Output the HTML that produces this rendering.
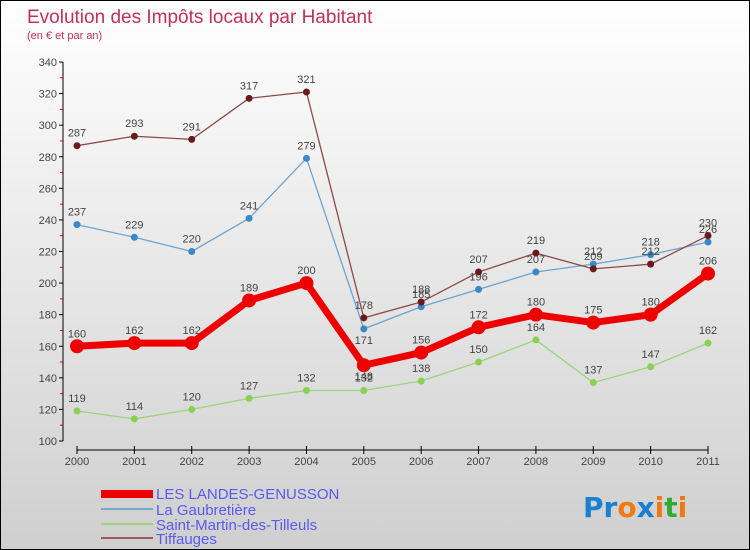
<!DOCTYPE html>
<html><head><meta charset="utf-8"><style>
body{margin:0}
#c{width:748px;height:548px;border:1px solid #000;background:linear-gradient(#fff,#cfcfcf);position:relative;overflow:hidden;font-family:"Liberation Sans",sans-serif}
</style></head><body>
<div id="c">
<svg id="s" width="748" height="548" style="position:absolute;left:0;top:0">
<text x="26" y="22" font-size="19" fill="#c0305a">Evolution des Impôts locaux par Habitant</text>
<text x="26" y="38" font-size="11" fill="#c0305a">(en € et par an)</text>
<g id="axes"></g><g id="series"></g>
<g>
<rect x="100" y="489" width="52" height="8" fill="#e00"/>
<text x="155" y="498" font-size="15" fill="#5a5af0">LES LANDES-GENUSSON</text>
<rect x="100" y="507" width="52" height="2" fill="#79a8cf"/>
<text x="155" y="514" font-size="15" fill="#5a5af0">La Gaubretière</text>
<rect x="100" y="522" width="52" height="2" fill="#9bd47a"/>
<text x="155" y="529" font-size="15" fill="#5a5af0">Saint-Martin-des-Tilleuls</text>
<rect x="100" y="536" width="52" height="2" fill="#9a5c5c"/>
<text x="155" y="543" font-size="15" fill="#5a5af0">Tiffauges</text>
</g>
<g font-size="28" font-weight="bold" font-family="'DejaVu Sans',sans-serif">
<text x="582" y="516"><tspan fill="#1a7fd0">Pr</tspan><tspan fill="#f07a10">o</tspan><tspan fill="#1a7fd0">x</tspan><tspan fill="#f07a10">i</tspan><tspan fill="#3a3">t</tspan><tspan fill="#f07a10">i</tspan></text>
</g>
</svg></div>
<script>
const years=["2000","2001","2002","2003","2004","2005","2006","2007","2008","2009","2010","2011"];
const yTicks=[100,120,140,160,180,200,220,240,260,280,300,320,340];
const landes=[160,162,162,189,200,148,156,172,180,175,180,206];
const gaubretiere=[237,229,220,241,279,171,185,196,207,212,218,226];
const saintMartin=[119,114,120,127,132,132,138,150,164,137,147,162];
const tiffauges=[287,293,291,317,321,178,188,207,219,209,212,230];
const NS="http://www.w3.org/2000/svg";
function X(i){return 76+i*(707-76)/11}
function Y(v){return 440-(v-100)*(440-61)/240}
function mk(t,a,p){const e=document.createElementNS(NS,t);for(const k in a)e.setAttribute(k,a[k]);p.appendChild(e);return e}
const ax=document.getElementById('axes');
let l=mk('line',{x1:62,y1:Y(340),x2:62,y2:Y(100),stroke:'#000'},ax);


for(let v=110;v<340;v+=20){mk('line',{x1:59,x2:62,y1:Y(v),y2:Y(v),stroke:'#d00'},ax)}
yTicks.forEach(v=>{mk('line',{x1:58,x2:62,y1:Y(v),y2:Y(v),stroke:'#000'},ax);
const t=mk('text',{x:56,y:Y(v)+4,'text-anchor':'end','font-size':11,fill:'#444'},ax);t.textContent=v;

});
l=mk('line',{x1:X(0),y1:449,x2:X(11),y2:449,stroke:'#000'},ax);


years.forEach((y,i)=>{mk('line',{x1:X(i),x2:X(i),y1:445,y2:453,stroke:'#000'},ax);
const t=mk('text',{x:X(i),y:464,'text-anchor':'middle','font-size':11,fill:'#444'},ax);t.textContent=y;

});
const sg=document.getElementById('series');
function draw(name,data,color,w,r,dot,below){
const g=mk('g',{},sg);


mk('polyline',{points:data.map((v,i)=>X(i)+','+Y(v)).join(' '),fill:'none',stroke:color,'stroke-width':w,'stroke-linejoin':'round'},g);
data.forEach((v,i)=>{const c=mk('circle',{cx:X(i),cy:Y(v),r:r,fill:dot},g);


const b=below.includes(i);
const t=mk('text',{x:X(i),y:Y(v)+(b?15:-9),'text-anchor':'middle','font-size':11,fill:'#444'},g);t.textContent=v;

});}
draw('saint-martin',saintMartin,'#9bd47a',1.3,3.5,'#8bd050',[]);
draw('gaubretiere',gaubretiere,'#6ea4d0',1.3,3.5,'#3a88c8',[5]);
draw('tiffauges',tiffauges,'#8a4a4a',1.3,3.5,'#6a1a1a',[]);
draw('landes',landes,'#ee0000',7,7,'#ee0000',[5]);
</script></body></html>
